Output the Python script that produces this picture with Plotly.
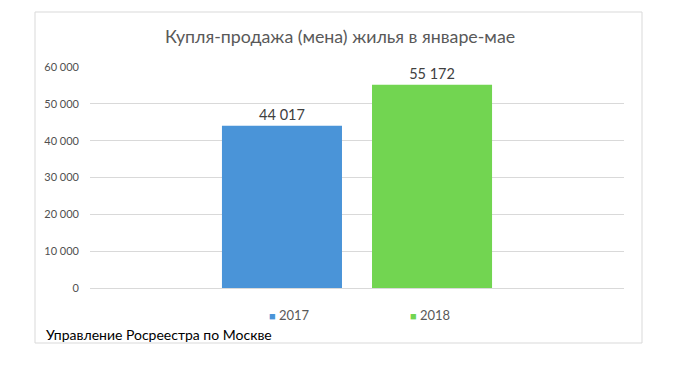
import plotly.graph_objects as go

title = "Купля-продажа (мена) жилья в январе-мае"
series_names = ["2017", "2018"]
series_values = [44017, 55172]
category = [""]
colors = ["#4A94D8", "#72D551"]
source = "Управление Росреестра по Москве"
y_ticks = [0, 10000, 20000, 30000, 40000, 50000, 60000]

FONT = "Lato, 'Open Sans', sans-serif"

# page body has an 8px margin: work in reference pixel coords and shift
OFF = 8
W, H = 700 - 2 * OFF, 379 - 2 * OFF
PL, PR, PT, PB = 90, 624, 67, 288  # plot area in reference pixels
L, R, T, B = PL - OFF, W - (PR - OFF), PT - OFF, H - (PB - OFF)
pw, ph = PR - PL, PB - PT

def px_x(x):
    return (x - PL) / pw

def px_y(y):
    return (PB - y) / ph

fig = go.Figure()
for name, val, col in zip(series_names, series_values, colors):
    fig.add_trace(go.Bar(
        x=category, y=[val], name=name, marker_color=col, marker_line_width=0,
        text=[val], texttemplate="%{y:,d}", textposition="outside",
        textfont=dict(size=14.5, color="#404040", family=FONT),
        cliponaxis=False, showlegend=False,
    ))

fig.update_layout(
    width=W, height=H,
    margin=dict(l=L, r=R, t=T, b=B, pad=0),
    paper_bgcolor="white", plot_bgcolor="white",
    separators=", ",
    barmode="group", bargap=0.438, bargroupgap=0.2,
    font=dict(family=FONT, color="#595959"),
    title=dict(text=title, x=px_x(340), xref="paper", xanchor="center",
               y=1 - (37 - OFF) / H, yanchor="middle",
               font=dict(size=17.8, color="#595959", family=FONT)),
    showlegend=False,
    xaxis=dict(showgrid=False, showticklabels=False, zeroline=False, showline=False),
    yaxis=dict(range=[0, 60000], tickvals=y_ticks, tickformat=",d",
               showgrid=True, gridcolor="#D9D9D9", gridwidth=1,
               zeroline=True, zerolinecolor="#D9D9D9", zerolinewidth=1,
               showline=False, ticks="", ticklabelstandoff=10,
               tickfont=dict(size=11, color="#505050", family=FONT)),
)

fig.add_shape(type="rect", xref="paper", yref="paper",
              x0=px_x(35), x1=px_x(642), y0=px_y(343), y1=px_y(12),
              line=dict(color="#D9D9D9", width=1), fillcolor="rgba(0,0,0,0)", layer="below")

# legend entries (small square + label) below the plot
legend_x = [267, 408]
for name, col, lx in zip(series_names, colors, legend_x):
    fig.add_annotation(
        text=f"<span style='color:{col};font-size:11px'>■</span> {name}",
        xref="paper", yref="paper", x=px_x(lx), y=px_y(315),
        xanchor="left", yanchor="middle", showarrow=False,
        font=dict(size=13, color="#595959", family=FONT))

fig.add_annotation(text=source, xref="paper", yref="paper",
                   x=px_x(44), y=px_y(334), xanchor="left", yanchor="middle",
                   showarrow=False, font=dict(size=14, color="#000000", family=FONT))

fig.write_html("out.html")
